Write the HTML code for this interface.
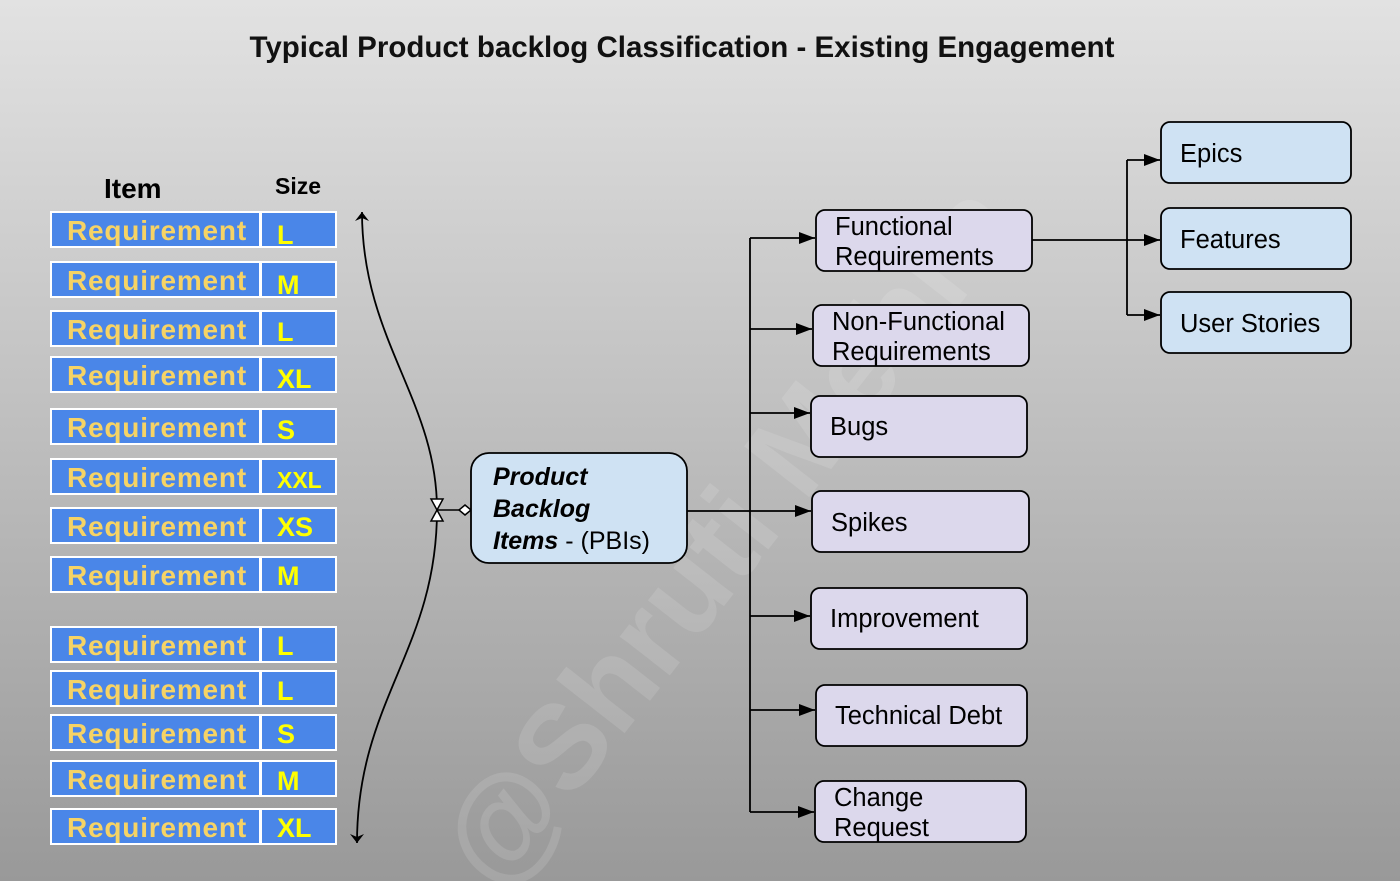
<!DOCTYPE html>
<html><head><meta charset="utf-8"><style>
html,body{margin:0;padding:0;width:1400px;height:881px;overflow:hidden}
svg{display:block}
text{font-family:"Liberation Sans",Arial,sans-serif}
</style></head><body>
<svg width="1400" height="881" viewBox="0 0 1400 881" xmlns="http://www.w3.org/2000/svg" style="overflow:hidden">
<defs>
<linearGradient id="bg" x1="0" y1="0" x2="0" y2="1">
<stop offset="0" stop-color="#e2e2e2"/><stop offset="1" stop-color="#999999"/>
</linearGradient>
<clipPath id="cp"><rect width="1400" height="881"/></clipPath>
<marker id="ar" markerWidth="16" markerHeight="12" refX="16" refY="6" orient="auto" markerUnits="userSpaceOnUse">
<path d="M0,0 L16,6 L0,12 z" fill="#000"/></marker>
<marker id="ao" markerWidth="10" markerHeight="14" refX="9" refY="7" orient="auto" markerUnits="userSpaceOnUse">
<path d="M0,0 L9,7 L0,14 L3,7 z" fill="#000"/></marker>
</defs>
<g clip-path="url(#cp)">
<rect width="1400" height="881" fill="url(#bg)"/>
<text x="682" y="57" text-anchor="middle" font-size="29.5" font-weight="bold" fill="#111">Typical Product backlog Classification - Existing Engagement</text>
<text x="760" y="560" text-anchor="middle" font-size="120" font-weight="bold" fill="#ffffff" fill-opacity="0.12" transform="rotate(-52 760 560)">@Shruti Mehra</text>
<text x="104" y="198" font-size="28" font-weight="bold" fill="#000">Item</text>
<text x="275" y="194" font-size="23" font-weight="bold" fill="#000">Size</text>
<g stroke="#fff" stroke-width="2" fill="#4a86e8">
<rect x="51" y="212" width="209" height="35"/><rect x="261" y="212" width="75" height="35"/>
<rect x="51" y="262" width="209" height="35"/><rect x="261" y="262" width="75" height="35"/>
<rect x="51" y="311" width="209" height="35"/><rect x="261" y="311" width="75" height="35"/>
<rect x="51" y="357" width="209" height="35"/><rect x="261" y="357" width="75" height="35"/>
<rect x="51" y="409" width="209" height="35"/><rect x="261" y="409" width="75" height="35"/>
<rect x="51" y="459" width="209" height="35"/><rect x="261" y="459" width="75" height="35"/>
<rect x="51" y="508" width="209" height="35"/><rect x="261" y="508" width="75" height="35"/>
<rect x="51" y="557" width="209" height="35"/><rect x="261" y="557" width="75" height="35"/>
<rect x="51" y="627" width="209" height="35"/><rect x="261" y="627" width="75" height="35"/>
<rect x="51" y="671" width="209" height="35"/><rect x="261" y="671" width="75" height="35"/>
<rect x="51" y="715" width="209" height="35"/><rect x="261" y="715" width="75" height="35"/>
<rect x="51" y="761" width="209" height="35"/><rect x="261" y="761" width="75" height="35"/>
<rect x="51" y="809" width="209" height="35"/><rect x="261" y="809" width="75" height="35"/>
</g>
<g font-size="28" font-weight="bold" fill="#f6d365" letter-spacing="0.8">
<text x="67" y="240">Requirement</text><text x="67" y="290">Requirement</text>
<text x="67" y="339">Requirement</text><text x="67" y="385">Requirement</text>
<text x="67" y="437">Requirement</text><text x="67" y="487">Requirement</text>
<text x="67" y="536">Requirement</text><text x="67" y="585">Requirement</text>
<text x="67" y="655">Requirement</text><text x="67" y="699">Requirement</text>
<text x="67" y="743">Requirement</text><text x="67" y="789">Requirement</text>
<text x="67" y="837">Requirement</text>
</g>
<g font-size="27" font-weight="bold" fill="#ffff00">
<text x="277" y="244">L</text><text x="277" y="294">M</text>
<text x="277" y="341">L</text><text x="277" y="388">XL</text>
<text x="277" y="439">S</text><text x="277" y="488" font-size="23">XXL</text>
<text x="277" y="536">XS</text><text x="277" y="585">M</text>
<text x="277" y="655">L</text><text x="277" y="700">L</text>
<text x="277" y="743">S</text><text x="277" y="790">M</text>
<text x="277" y="837">XL</text>
</g>
<path d="M437,510 C437,400 362,340 362,212" fill="none" stroke="#000" stroke-width="1.8" marker-end="url(#ao)"/>
<path d="M437,510 C437,650 357,700 357,843" fill="none" stroke="#000" stroke-width="1.8" marker-end="url(#ao)"/>
<path d="M431,499 L443,499 L437,510 L443,521 L431,521 L437,510 z" fill="#fff" stroke="#000" stroke-width="1.5"/>
<line x1="437" y1="510" x2="459" y2="510" stroke="#000" stroke-width="1.5"/>
<path d="M459,510 L465,505 L471,510 L465,515 z" fill="#fff" stroke="#000" stroke-width="1.5"/>
<rect x="471" y="453" width="216" height="110" rx="18" fill="#cfe2f3" stroke="#000" stroke-width="1.8"/>
<text x="493" y="485" font-size="25" font-weight="bold" font-style="italic">Product</text>
<text x="493" y="517" font-size="25" font-weight="bold" font-style="italic">Backlog</text>
<text x="493" y="549" font-size="25"><tspan font-weight="bold" font-style="italic">Items</tspan> -  (PBIs)</text>
<g stroke="#000" stroke-width="1.8" fill="none">
<line x1="687" y1="511" x2="811" y2="511" marker-end="url(#ar)"/>
<line x1="750" y1="238" x2="750" y2="812"/>
<line x1="750" y1="238" x2="815" y2="238" marker-end="url(#ar)"/>
<line x1="750" y1="329" x2="812" y2="329" marker-end="url(#ar)"/>
<line x1="750" y1="413" x2="810" y2="413" marker-end="url(#ar)"/>
<line x1="750" y1="616" x2="810" y2="616" marker-end="url(#ar)"/>
<line x1="750" y1="710" x2="815" y2="710" marker-end="url(#ar)"/>
<line x1="750" y1="812" x2="814" y2="812" marker-end="url(#ar)"/>
<line x1="1032" y1="240" x2="1160" y2="240" marker-end="url(#ar)"/>
<line x1="1127" y1="160" x2="1127" y2="315"/>
<line x1="1127" y1="160" x2="1160" y2="160" marker-end="url(#ar)"/>
<line x1="1127" y1="315" x2="1160" y2="315" marker-end="url(#ar)"/>
</g>
<g fill="#dcd8ec" stroke="#000" stroke-width="1.8">
<rect x="816" y="210" width="216" height="61" rx="9"/>
<rect x="813" y="305" width="216" height="61" rx="9"/>
<rect x="811" y="396" width="216" height="61" rx="9"/>
<rect x="812" y="491" width="217" height="61" rx="9"/>
<rect x="811" y="588" width="216" height="61" rx="9"/>
<rect x="816" y="685" width="211" height="61" rx="9"/>
<rect x="815" y="781" width="211" height="61" rx="9"/>
</g>
<g fill="#cfe2f3" stroke="#000" stroke-width="1.8">
<rect x="1161" y="122" width="190" height="61" rx="9"/>
<rect x="1161" y="208" width="190" height="61" rx="9"/>
<rect x="1161" y="292" width="190" height="61" rx="9"/>
</g>
<g font-size="25.5" fill="#000">
<text x="835" y="235">Functional</text><text x="835" y="265">Requirements</text>
<text x="832" y="330">Non-Functional</text><text x="832" y="360">Requirements</text>
<text x="830" y="435">Bugs</text>
<text x="831" y="531">Spikes</text>
<text x="830" y="627">Improvement</text>
<text x="835" y="724">Technical Debt</text>
<text x="834" y="806">Change</text><text x="834" y="836">Request</text>
<text x="1180" y="162">Epics</text>
<text x="1180" y="248">Features</text>
<text x="1180" y="332">User Stories</text>
</g>
</g>
</svg>
</body></html>
